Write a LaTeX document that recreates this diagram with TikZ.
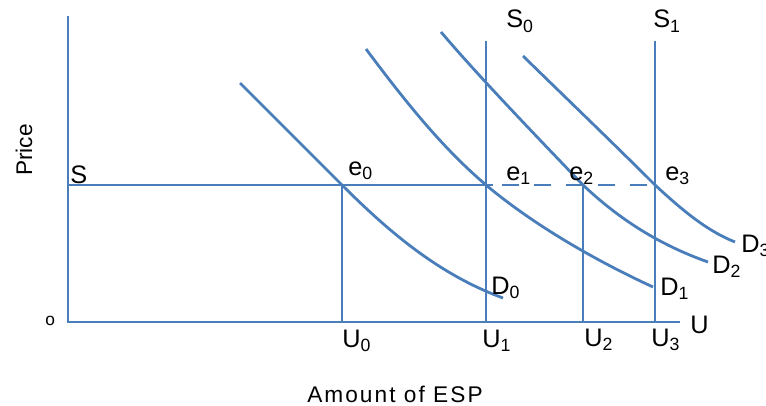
\documentclass[tikz,border=0pt]{standalone}
\usepackage{fontspec}
\setmainfont{Liberation Sans}
\definecolor{ln}{RGB}{74,126,187}
\begin{document}
\begin{tikzpicture}[x=0.75pt,y=-0.75pt,
  ax/.style={draw=ln,line width=2.2pt},
  crv/.style={draw=ln,line width=2.1pt},
  lbl/.style={anchor=base west,inner sep=0pt,font=\fontsize{19}{21}\selectfont},
  dsh/.style={draw=ln,line width=2.2pt,dash pattern=on 12.75pt off 11.25pt}]
\useasboundingbox (0,0) rectangle (766,406);
% coordinates
\coordinate (Ytop) at (68,16);
\coordinate (O) at (68,322);
\coordinate (Xend) at (680,322);
\coordinate (Sl) at (68,185);
\coordinate (Ssolid) at (493,185);
\coordinate (Sdash) at (502,185);
\coordinate (e0) at (342,185);
\coordinate (e1) at (486,185);
\coordinate (e2) at (583,185);
\coordinate (e3) at (655,185);
\coordinate (u0) at (342,322);
\coordinate (u1) at (486,322);
\coordinate (u2) at (583,322);
\coordinate (u3) at (655,322);
\coordinate (s0top) at (486,41);
\coordinate (s1top) at (655,41);
\coordinate (d0a) at (240,83);
\coordinate (d0b) at (503,298);
\coordinate (d1a) at (366,49);
\coordinate (d1b) at (653,287);
\coordinate (d2a) at (441,32);
\coordinate (d2b) at (708,262);
\coordinate (d3a) at (523,56);
\coordinate (d3b) at (735,242);
% axes
\draw[ax] (Ytop) -- (O) -- (Xend);
% price line
\draw[ax] (Sl) -- (Ssolid);
\draw[dsh] (Sdash) -- (e3);
% verticals
\draw[ax] (e0) -- (u0);
\draw[ax] (s0top) -- (u1);
\draw[ax] (e2) -- (u2);
\draw[ax] (s1top) -- (u3);
% demand curves
\draw[crv] (d0a) -- (e0) .. controls (390,233) and (440,275) .. (d0b);
\draw[crv] (d1a) .. controls (410,108) and (445,150) .. (e1) .. controls (530,222) and (590,258) .. (d1b);
\draw[crv] (d2a) .. controls (480,78) and (540,140) .. (e2) .. controls (620,220) and (660,245) .. (d2b);
\draw[crv] (d3a) .. controls (565,97) and (615,145) .. (e3) .. controls (680,208) and (705,230) .. (d3b);
% labels
\node[lbl] (lS0) at (506,28) {S\textsubscript{0}};
\node[lbl] (lS1) at (653,28) {S\textsubscript{1}};
\node[lbl] (lS) at (70,183) {S};
\node[lbl] (le0) at (348,175) {e\textsubscript{0}};
\node[lbl] (le1) at (506,180) {e\textsubscript{1}};
\node[lbl] (le2) at (569,180) {e\textsubscript{2}};
\node[lbl] (le3) at (665,180) {e\textsubscript{3}};
\node[lbl] (lD0) at (491,294) {D\textsubscript{0}};
\node[lbl] (lD1) at (660,295) {D\textsubscript{1}};
\node[lbl] (lD2) at (712,273) {D\textsubscript{2}};
\node[lbl] (lD3) at (741,252) {D\textsubscript{3}};
\node[lbl] (lU0) at (342,347) {U\textsubscript{0}};
\node[lbl] (lU1) at (482,347) {U\textsubscript{1}};
\node[lbl] (lU2) at (584,346) {U\textsubscript{2}};
\node[lbl] (lU3) at (651,346) {U\textsubscript{3}};
\node[lbl] (lU) at (690,333) {U};
\node[anchor=base west,inner sep=0pt,font=\fontsize{13}{15}\selectfont] (lo) at (45,325) {o};
\node[anchor=base west,inner sep=0pt,rotate=90,font=\fontsize{17}{20}\selectfont] (lP) at (32,176) {Price};
\node[anchor=base west,inner sep=0pt,font=\fontsize{17}{20}\selectfont\addfontfeature{LetterSpace=9}] (lA) at (307,402) {Amount of ESP};
\end{tikzpicture}
\end{document}
